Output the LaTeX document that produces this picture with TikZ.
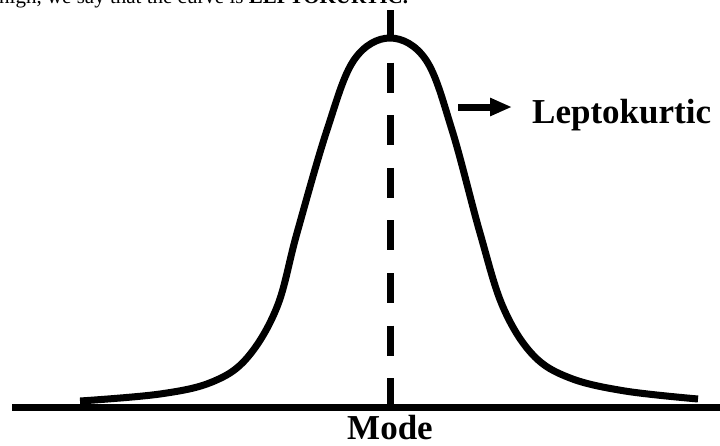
\documentclass[tikz,border=0pt]{standalone}
\usepackage{fontspec}
\setmainfont{Liberation Serif}
\usetikzlibrary{arrows.meta}
\begin{document}
\begin{tikzpicture}[x=1pt,y=-1pt,
  thick line/.style={line width=7pt,black},
  curveline/.style={line width=7pt,black,line join=round},
  dashline/.style={line width=7pt,black,dash pattern=on 30pt off 22.6pt},
  label text/.style={font=\fontsize{35}{40}\selectfont\bfseries,inner sep=0pt}]
\useasboundingbox (0,0) rectangle (720,445);
% cut-off caption at top
\begin{scope}
\clip (0,0) rectangle (720,445);
\node[anchor=base west,inner sep=0pt,font=\fontsize{21}{24}\selectfont] (cap) at (-1,3) {high, we say that the curve is \textbf{LEPTOKURTIC.}};
\end{scope}
% baseline axis
\coordinate (axL) at (12,407.5);
\coordinate (axR) at (720,407.5);
\draw[thick line] (axL) -- (axR);
% dashed mode line
\coordinate (mtop) at (390,10);
\coordinate (mbot) at (390,408);
\draw[dashline] (mtop) -- (mbot);
% curve
\draw[curveline] plot[smooth,tension=0.6] coordinates {
 (80,401) (160,394) (212,382) (247,358) (277,307) (297,233) (327,130) (354,60) (390,38)
 (426,60) (452,130) (480,233) (503,307) (533,355) (570,378) (625,391) (698,399)};
% labels
\node[label text,anchor=base west] (lepto) at (532,123) {Leptokurtic};
\node[label text,anchor=base] (mode) at (390,439) {Mode};
% arrow
\coordinate (arS) at (458,107);
\coordinate (arE) at (512,107);
\draw[line width=7pt,-{Triangle[length=22pt,width=17pt]}] (arS) -- (arE);
\end{tikzpicture}
\end{document}
